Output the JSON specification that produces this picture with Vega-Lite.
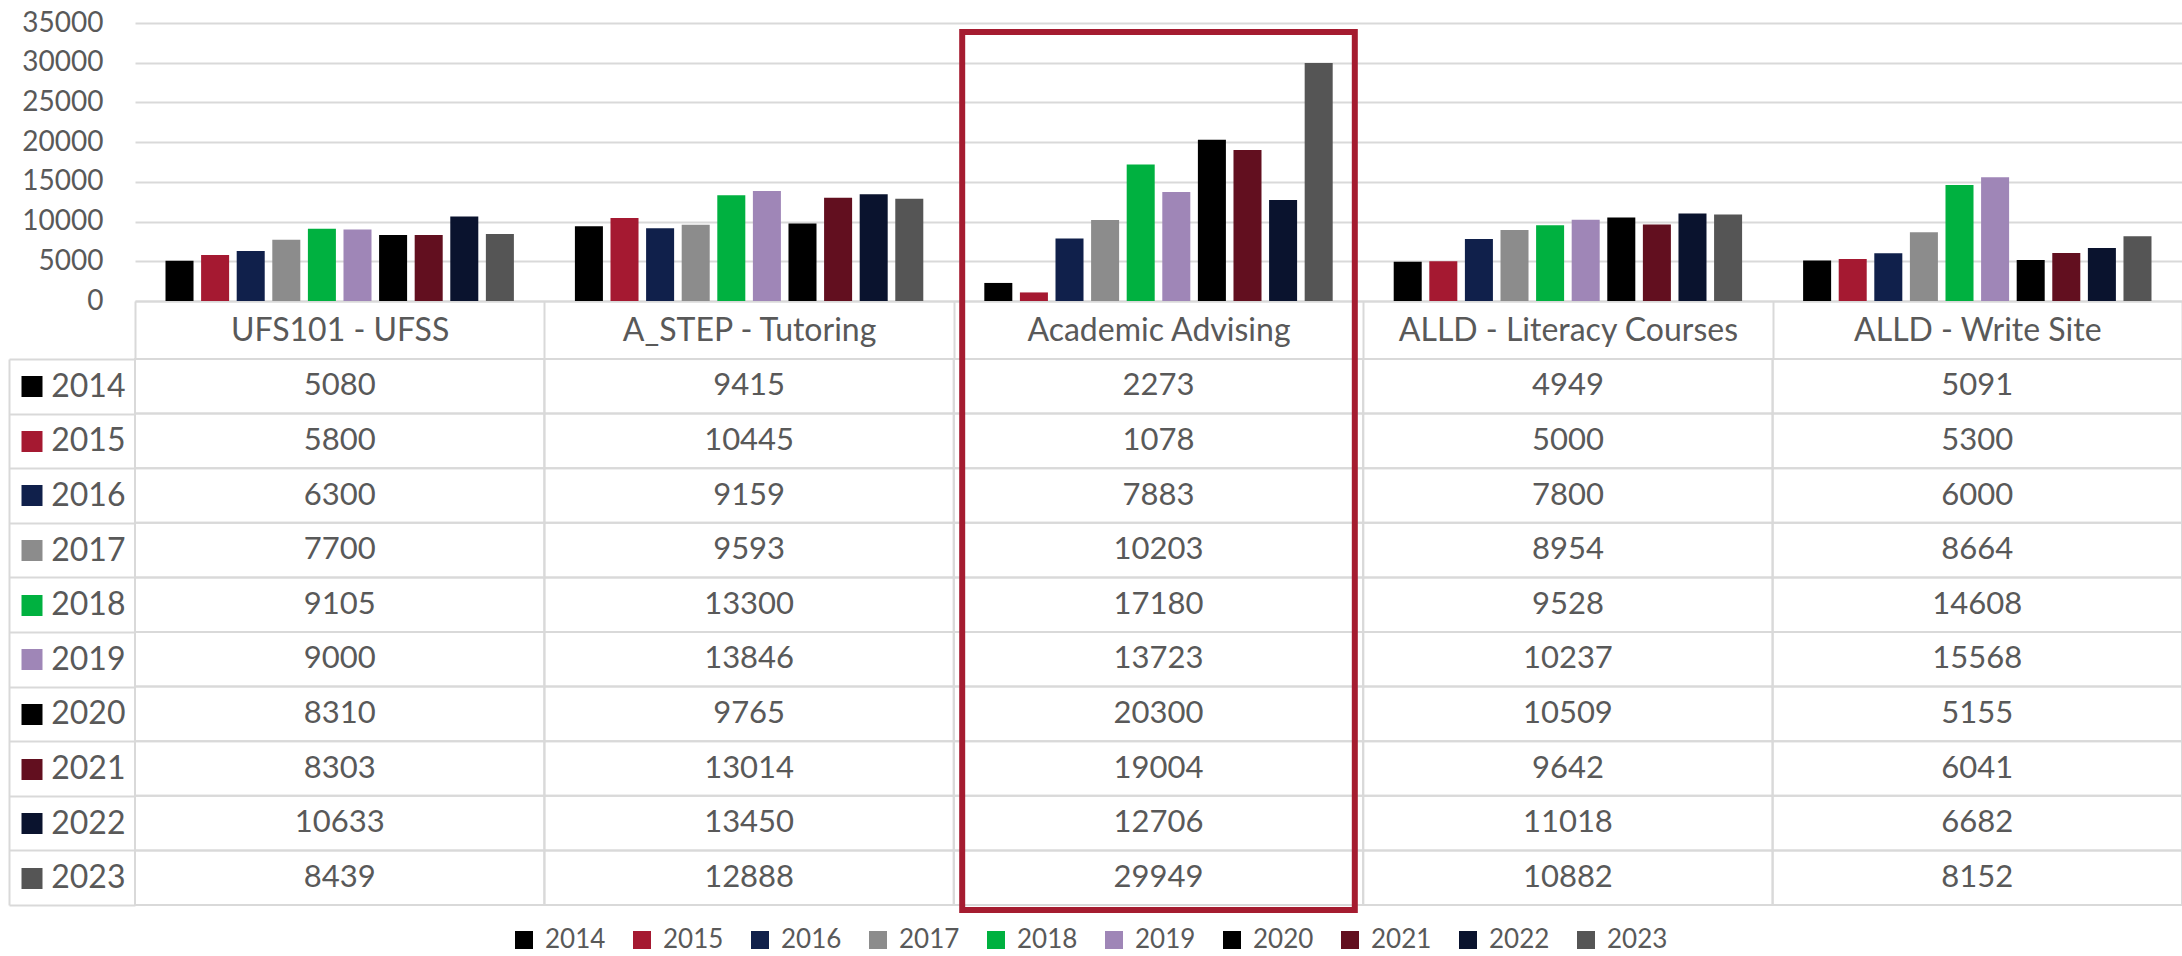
{
  "$schema": "https://vega.github.io/schema/vega-lite/v6.json",
  "width": 2047,
  "height": 882,
  "autosize": {"type": "none"},
  "padding": {"left": 135, "top": 23, "right": 0, "bottom": 51},
  "background": "#ffffff",
  "config": {"view": {"stroke": null}, "font": "Lato", "text": {"font": "Lato"}},
  "data": {"values": [
    {"program": "UFS101 - UFSS", "year": "2014", "value": 5080},
    {"program": "UFS101 - UFSS", "year": "2015", "value": 5800},
    {"program": "UFS101 - UFSS", "year": "2016", "value": 6300},
    {"program": "UFS101 - UFSS", "year": "2017", "value": 7700},
    {"program": "UFS101 - UFSS", "year": "2018", "value": 9105},
    {"program": "UFS101 - UFSS", "year": "2019", "value": 9000},
    {"program": "UFS101 - UFSS", "year": "2020", "value": 8310},
    {"program": "UFS101 - UFSS", "year": "2021", "value": 8303},
    {"program": "UFS101 - UFSS", "year": "2022", "value": 10633},
    {"program": "UFS101 - UFSS", "year": "2023", "value": 8439},
    {"program": "A_STEP - Tutoring", "year": "2014", "value": 9415},
    {"program": "A_STEP - Tutoring", "year": "2015", "value": 10445},
    {"program": "A_STEP - Tutoring", "year": "2016", "value": 9159},
    {"program": "A_STEP - Tutoring", "year": "2017", "value": 9593},
    {"program": "A_STEP - Tutoring", "year": "2018", "value": 13300},
    {"program": "A_STEP - Tutoring", "year": "2019", "value": 13846},
    {"program": "A_STEP - Tutoring", "year": "2020", "value": 9765},
    {"program": "A_STEP - Tutoring", "year": "2021", "value": 13014},
    {"program": "A_STEP - Tutoring", "year": "2022", "value": 13450},
    {"program": "A_STEP - Tutoring", "year": "2023", "value": 12888},
    {"program": "Academic Advising", "year": "2014", "value": 2273},
    {"program": "Academic Advising", "year": "2015", "value": 1078},
    {"program": "Academic Advising", "year": "2016", "value": 7883},
    {"program": "Academic Advising", "year": "2017", "value": 10203},
    {"program": "Academic Advising", "year": "2018", "value": 17180},
    {"program": "Academic Advising", "year": "2019", "value": 13723},
    {"program": "Academic Advising", "year": "2020", "value": 20300},
    {"program": "Academic Advising", "year": "2021", "value": 19004},
    {"program": "Academic Advising", "year": "2022", "value": 12706},
    {"program": "Academic Advising", "year": "2023", "value": 29949},
    {"program": "ALLD - Literacy Courses", "year": "2014", "value": 4949},
    {"program": "ALLD - Literacy Courses", "year": "2015", "value": 5000},
    {"program": "ALLD - Literacy Courses", "year": "2016", "value": 7800},
    {"program": "ALLD - Literacy Courses", "year": "2017", "value": 8954},
    {"program": "ALLD - Literacy Courses", "year": "2018", "value": 9528},
    {"program": "ALLD - Literacy Courses", "year": "2019", "value": 10237},
    {"program": "ALLD - Literacy Courses", "year": "2020", "value": 10509},
    {"program": "ALLD - Literacy Courses", "year": "2021", "value": 9642},
    {"program": "ALLD - Literacy Courses", "year": "2022", "value": 11018},
    {"program": "ALLD - Literacy Courses", "year": "2023", "value": 10882},
    {"program": "ALLD - Write Site", "year": "2014", "value": 5091},
    {"program": "ALLD - Write Site", "year": "2015", "value": 5300},
    {"program": "ALLD - Write Site", "year": "2016", "value": 6000},
    {"program": "ALLD - Write Site", "year": "2017", "value": 8664},
    {"program": "ALLD - Write Site", "year": "2018", "value": 14608},
    {"program": "ALLD - Write Site", "year": "2019", "value": 15568},
    {"program": "ALLD - Write Site", "year": "2020", "value": 5155},
    {"program": "ALLD - Write Site", "year": "2021", "value": 6041},
    {"program": "ALLD - Write Site", "year": "2022", "value": 6682},
    {"program": "ALLD - Write Site", "year": "2023", "value": 8152}
  ]},
  "layer": [
    {
      "mark": {"type": "bar"},
      "encoding": {
        "x": {"field": "program", "type": "nominal",
          "sort": ["UFS101 - UFSS", "A_STEP - Tutoring", "Academic Advising", "ALLD - Literacy Courses", "ALLD - Write Site"],
          "scale": {"paddingInner": 0, "paddingOuter": 0},
          "axis": {"orient": "bottom", "offset": -604, "title": null, "domain": true, "domainColor": "#d9d9d9", "domainWidth": 2,
            "ticks": true, "tickBand": "extent", "tickSize": 58, "tickColor": "#d9d9d9", "tickWidth": 2, "labelLimit": 0,
            "labelFontSize": 32, "labelColor": "#595959", "labelFont": "Lato", "labelPadding": -29, "labelBaseline": "middle", "labelAngle": 0}},
        "xOffset": {"field": "year", "type": "nominal", "scale": {"paddingInner": 0.213, "paddingOuter": 0.857}},
        "y": {"field": "value", "type": "quantitative",
          "scale": {"domain": [0, 35000], "range": [278, 0], "nice": false},
          "axis": {"orient": "left", "values": [0, 5000, 10000, 15000, 20000, 25000, 30000, 35000], "format": "d", "title": null,
            "domain": false, "ticks": false, "grid": true, "gridColor": "#d9d9d9", "gridWidth": 2,
            "labelFontSize": 28, "labelColor": "#595959", "labelFont": "Lato", "labelPadding": 32}},
        "color": {"field": "year", "type": "nominal",
          "scale": {"domain": ["2014", "2015", "2016", "2017", "2018", "2019", "2020", "2021", "2022", "2023"],
            "range": ["#000000", "#A51931", "#10204B", "#8C8C8C", "#00B140", "#9F86B7", "#000000", "#620F1F", "#0A132E", "#555555"]},
          "legend": {"orient": "none", "legendX": 376, "legendY": 904, "direction": "horizontal", "columns": 10, "title": null,
            "symbolType": "square", "symbolSize": 324, "symbolStrokeWidth": 0, "labelFontSize": 26, "labelColor": "#595959",
            "labelFont": "Lato", "labelOffset": 8, "columnPadding": 23, "padding": 0}}
      }
    },
    {
      "mark": {"type": "rect", "fill": "#ffffff", "fillOpacity": 0, "stroke": "#d9d9d9", "strokeWidth": 2},
      "encoding": {
        "x": {"field": "program", "type": "nominal",
          "sort": ["UFS101 - UFSS", "A_STEP - Tutoring", "Academic Advising", "ALLD - Literacy Courses", "ALLD - Write Site"],
          "scale": {"paddingInner": 0, "paddingOuter": 0},
          "axis": {"orient": "bottom", "offset": -604, "title": null, "domain": true, "domainColor": "#d9d9d9", "domainWidth": 2,
            "ticks": true, "tickBand": "extent", "tickSize": 58, "tickColor": "#d9d9d9", "tickWidth": 2, "labelLimit": 0,
            "labelFontSize": 32, "labelColor": "#595959", "labelFont": "Lato", "labelPadding": -29, "labelBaseline": "middle", "labelAngle": 0}},
        "y": {"field": "year", "type": "nominal",
          "scale": {"domain": ["2014", "2015", "2016", "2017", "2018", "2019", "2020", "2021", "2022", "2023"], "range": [336, 882], "paddingInner": 0, "paddingOuter": 0},
          "axis": {"orient": "left", "offset": 126, "title": null, "domain": true, "domainColor": "#d9d9d9", "domainWidth": 2,
            "ticks": true, "tickBand": "extent", "tickSize": -126, "tickColor": "#d9d9d9", "tickWidth": 2,
            "labelFontSize": 32, "labelColor": "#595959", "labelFont": "Lato", "labelPadding": 10, "labelAlign": "right", "labelBaseline": "middle"}}
      }
    },
    {
      "mark": {"type": "text", "fontSize": 31, "color": "#595959", "font": "Lato", "baseline": "middle"},
      "encoding": {
        "x": {"field": "program", "type": "nominal",
          "sort": ["UFS101 - UFSS", "A_STEP - Tutoring", "Academic Advising", "ALLD - Literacy Courses", "ALLD - Write Site"],
          "scale": {"paddingInner": 0, "paddingOuter": 0},
          "axis": {"orient": "bottom", "offset": -604, "title": null, "domain": true, "domainColor": "#d9d9d9", "domainWidth": 2,
            "ticks": true, "tickBand": "extent", "tickSize": 58, "tickColor": "#d9d9d9", "tickWidth": 2, "labelLimit": 0,
            "labelFontSize": 32, "labelColor": "#595959", "labelFont": "Lato", "labelPadding": -29, "labelBaseline": "middle", "labelAngle": 0}},
        "y": {"field": "year", "type": "nominal",
          "scale": {"domain": ["2014", "2015", "2016", "2017", "2018", "2019", "2020", "2021", "2022", "2023"], "range": [336, 882], "paddingInner": 0, "paddingOuter": 0},
          "axis": {"orient": "left", "offset": 93, "title": null, "domain": false, "labels": false, "grid": false,
            "ticks": true, "tickSize": 21, "tickWidth": 21, "tickCap": "butt",
            "tickColor": {"condition": [
              {"test": "datum.value === '2014' || datum.value === '2020'", "value": "#000000"},
              {"test": "datum.value === '2015'", "value": "#A51931"},
              {"test": "datum.value === '2016'", "value": "#10204B"},
              {"test": "datum.value === '2017'", "value": "#8C8C8C"},
              {"test": "datum.value === '2018'", "value": "#00B140"},
              {"test": "datum.value === '2019'", "value": "#9F86B7"},
              {"test": "datum.value === '2021'", "value": "#620F1F"},
              {"test": "datum.value === '2022'", "value": "#0A132E"}
            ], "value": "#555555"}}},
        "text": {"field": "value", "type": "quantitative", "format": "d"}
      }
    },
    {
      "data": {"values": [{"program": "Academic Advising"}]},
      "mark": {"type": "rect", "fill": "#ffffff", "fillOpacity": 0, "stroke": "#A51C30", "strokeWidth": 6,
        "width": {"band": 0.959}, "yOffset": 448, "height": 878},
      "encoding": {
        "x": {"field": "program", "type": "nominal",
          "sort": ["UFS101 - UFSS", "A_STEP - Tutoring", "Academic Advising", "ALLD - Literacy Courses", "ALLD - Write Site"],
          "scale": {"paddingInner": 0, "paddingOuter": 0},
          "axis": {"orient": "bottom", "offset": -604, "title": null, "domain": true, "domainColor": "#d9d9d9", "domainWidth": 2,
            "ticks": true, "tickBand": "extent", "tickSize": 58, "tickColor": "#d9d9d9", "tickWidth": 2, "labelLimit": 0,
            "labelFontSize": 32, "labelColor": "#595959", "labelFont": "Lato", "labelPadding": -29, "labelBaseline": "middle", "labelAngle": 0}}
      }
    }
  ],
  "resolve": {"scale": {"y": "independent"}, "axis": {"y": "independent"}}
}
